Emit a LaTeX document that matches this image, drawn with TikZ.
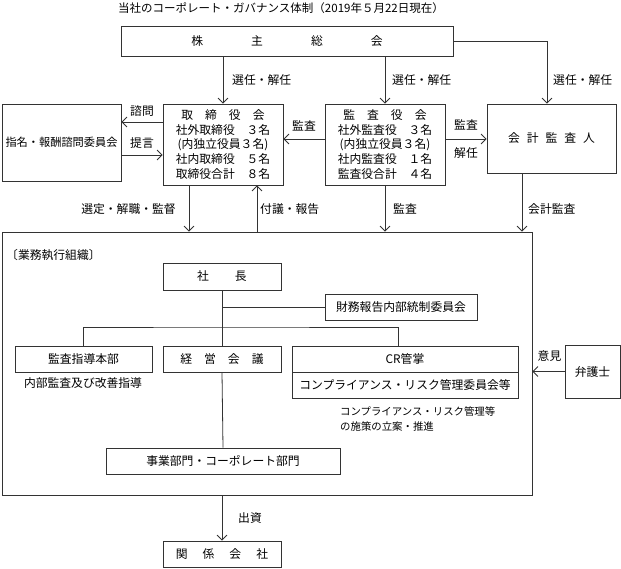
\documentclass[tikz,border=0pt]{standalone}
\usepackage{fontspec}
\setmainfont{Noto Sans CJK JP}
\usetikzlibrary{arrows.meta, positioning}

\tikzset{
  box/.style={draw=black!80, line width=0.8pt, inner sep=0pt, align=center},
  arr/.style={draw=black!80, line width=0.8pt, -{Straight Barb[length=5pt,width=10pt]}},
  ln/.style={draw=black!80, line width=0.8pt},
  lbl/.style={inner sep=0pt},
}

\begin{document}
\begin{tikzpicture}[x=1pt, y=-1pt, font=\fontsize{11.8}{14.8}\selectfont]
    \useasboundingbox (0,0) rectangle (621,568);

    \node[lbl, font=\fontsize{11.5}{14}\selectfont] (title) at (281,8) {当社のコーポレート・ガバナンス体制（2019年５月22日現在）};

    % top level
    \node[box, minimum width=332pt, minimum height=30pt] (gm) at (287,41) {株\hspace{48pt}主\hspace{48pt}総\hspace{48pt}会};
    \node[box, minimum width=119pt, minimum height=77pt, font=\fontsize{11.2}{14}\selectfont] (nom) at (61.5,142.5) {指名・報酬諮問委員会};
    \node[box, minimum width=120pt, minimum height=81pt] (bod) at (223,144.5) {取\hspace{12pt}締\hspace{12pt}役\hspace{12pt}会\\社外取締役　３名\\(内独立役員３名)\\社内取締役　５名\\取締役合計　８名};
    \node[box, minimum width=120pt, minimum height=81pt] (aud) at (385,144.5) {監\hspace{12pt}査\hspace{12pt}役\hspace{12pt}会\\社外監査役　３名\\(内独立役員３名)\\社内監査役　１名\\監査役合計　４名};
    \node[box, minimum width=129pt, minimum height=69pt] (acc) at (551.5,138.5) {会\hspace{7pt}計\hspace{7pt}監\hspace{7pt}査\hspace{7pt}人};

    \draw[arr] (gm.south -| bod) -- (bod.north);
    \draw[arr] (gm.south -| aud) -- (aud.north);
    \draw[arr] (gm.east) -| ([xshift=-4.5pt]acc.north);
    \node[lbl, anchor=west] at (232,80) {選任・解任};
    \node[lbl, anchor=west] at (392,80) {選任・解任};
    \node[lbl, anchor=west] at (553,80) {選任・解任};

    \draw[arr] ([yshift=22.5pt]bod.west) -- ([yshift=22.5pt]bod.west -| nom.east);
    \draw[arr] ([yshift=-10.5pt]bod.west -| nom.east) -- ([yshift=-10.5pt]bod.west);
    \node[lbl] at (142,111) {諮問};
    \node[lbl] at (142,143) {提言};
    \draw[arr] ([yshift=5.5pt]aud.west) -- ([yshift=5.5pt]bod.east);
    \node[lbl] at (304,126) {監査};
    \draw[arr] ([yshift=5.5pt]aud.east) -- ([yshift=5.5pt]aud.east -| acc.west);
    \node[lbl] at (466,125) {監査};
    \node[lbl] at (466,153) {解任};

    % business execution
    \node[box, minimum width=530pt, minimum height=263pt] (gyo) at (267,363.5) {};
    \node[lbl, anchor=west] (gyolbl) at (6,255) {〔業務執行組織〕};

    \draw[arr] ([xshift=-34pt]bod.south) -- ([xshift=-34pt]bod.south |- gyo.north);
    \draw[arr] ([xshift=34pt]bod.south |- gyo.north) -- ([xshift=34pt]bod.south);
    \draw[arr] (aud.south) -- (aud.south |- gyo.north);
    \draw[arr] ([xshift=-29.5pt]acc.south) -- ([xshift=-29.5pt]acc.south |- gyo.north);
    \node[lbl] at (128.5,209) {選定・解職・監督};
    \node[lbl, anchor=west] at (260,209) {付議・報告};
    \node[lbl, anchor=west] at (393,209) {監査};
    \node[lbl, anchor=west] at (528,209) {会計監査};

    \node[box, minimum width=118pt, minimum height=27pt] (pres) at (222,276.5) {社\hspace{26pt}長};
    \node[box, minimum width=152pt, minimum height=26pt] (zai) at (401,307) {財務報告内部統制委員会};
    \node[box, minimum width=137pt, minimum height=26pt] (ia) at (83.5,359) {監査指導本部};
    \node[box, minimum width=118pt, minimum height=26pt] (mgmt) at (222,359) {経\hspace{12pt}営\hspace{12pt}会\hspace{12pt}議};
    \node[box, minimum width=226pt, minimum height=26pt] (crt) at (405,359) {CR管掌};
    \node[box, minimum width=226pt, minimum height=26pt] (crb) at (405,385) {コンプライアンス・リスク管理委員会等};
    \node[box, minimum width=234pt, minimum height=26pt] (biz) at (223,461) {事業部門・コーポレート部門};
    \node[lbl] at (83,383) {内部監査及び改善指導};
    \node[lbl, anchor=west, align=left, font=\fontsize{10.4}{15}\selectfont] at (340,419.5) {コンプライアンス・リスク管理等\\の施策の立案・推進};

    \coordinate (br) at (222,327);
    \draw[ln] (pres.south) -- (mgmt.north);
    \draw[ln] (pres.south |- zai.west) -- (zai.west);
    \draw[ln] (ia.north) |- (br) -| ([xshift=-7pt]crt.north);
    \draw[ln] (mgmt.south) -- (biz.north);

    % outside
    \node[box, minimum width=55pt, minimum height=53pt] (law) at (592.5,371.5) {弁護士};
    \draw[arr] (law.west) -- (law.west -| gyo.east);
    \node[lbl] at (549.5,356) {意見};

    \node[box, minimum width=118pt, minimum height=26pt] (grp) at (222,554) {関\hspace{15pt}係\hspace{15pt}会\hspace{15pt}社};
    \draw[arr] (grp.north |- gyo.south) -- (grp.north);
    \node[lbl, anchor=west] at (238,518) {出資};
\end{tikzpicture}
\end{document}
